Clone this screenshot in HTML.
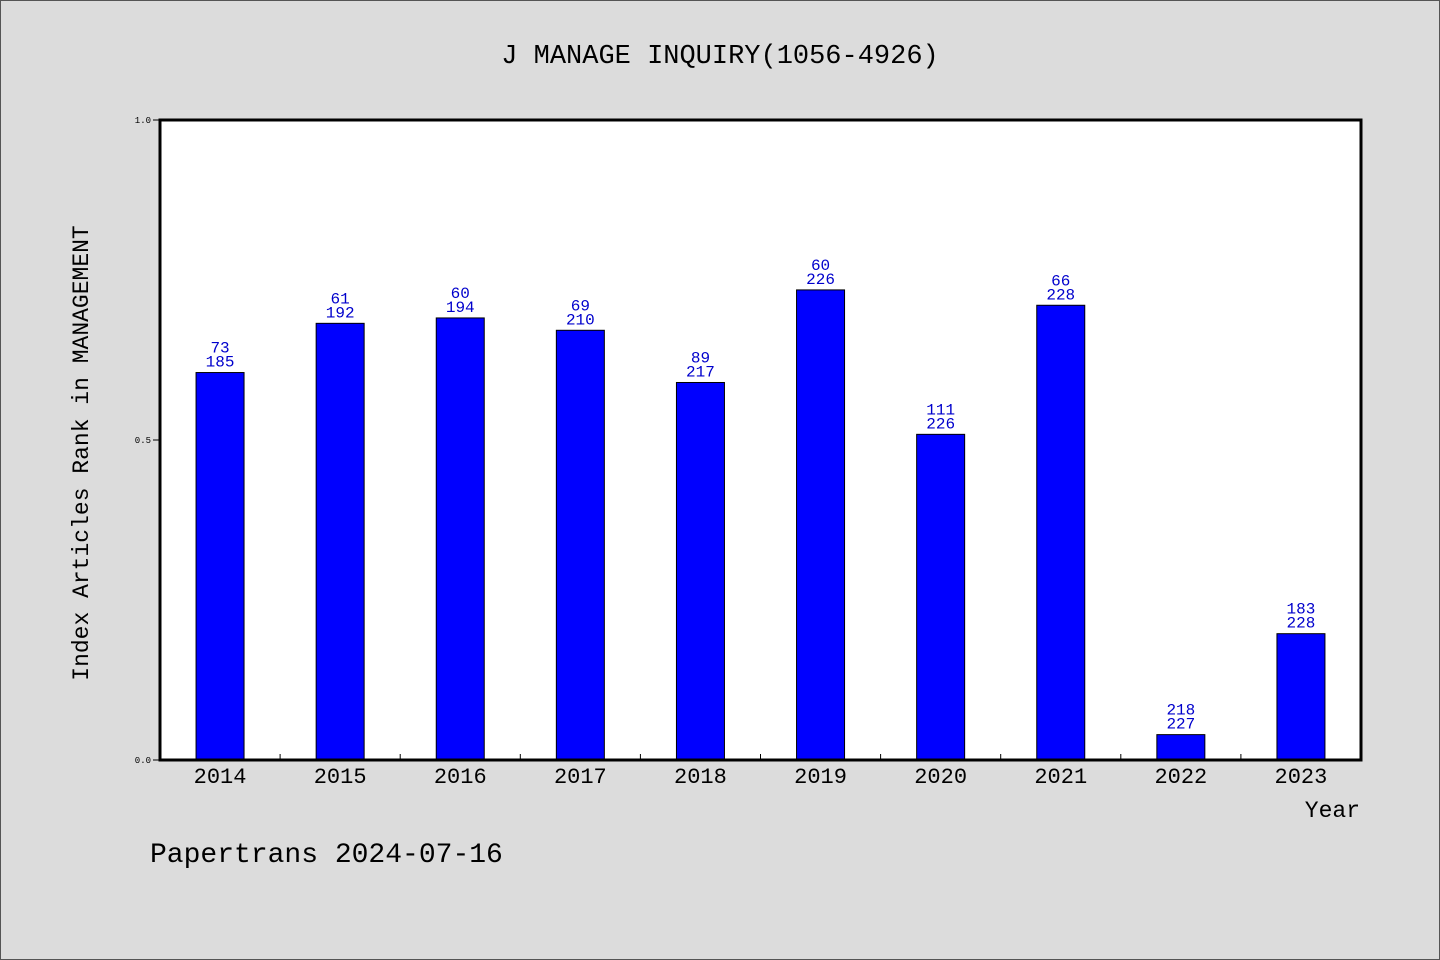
<!DOCTYPE html>
<html><head><meta charset="utf-8"><style>
html,body{margin:0;padding:0;background:#dcdcdc;}
svg{display:block;}
text{font-family:"WenQuanYi Zen Hei","Liberation Mono",monospace;}
</style></head><body>
<svg id="c" width="1440" height="960" xmlns="http://www.w3.org/2000/svg">
<rect x="0.5" y="0.5" width="1439" height="959" fill="#dcdcdc" stroke="#555"/>
<text x="720" y="63" font-size="27" text-anchor="middle">J MANAGE INQUIRY(1056-4926)</text>
<rect x="160" y="120" width="1201" height="640" fill="#fff"/>
<g id="bars"></g>
<rect x="160" y="120" width="1201" height="640" fill="none" stroke="#000" stroke-width="3"/>
<text transform="translate(88,453) rotate(-90)" font-size="23" text-anchor="middle">Index Articles Rank in MANAGEMENT</text>
<text x="1360" y="817" font-size="23" text-anchor="end">Year</text>
<text x="150" y="862" font-size="28">Papertrans 2024-07-16</text>
</svg>
<script>
const years=["2014","2015","2016","2017","2018","2019","2020","2021","2022","2023"];
const ranks=[73,61,60,69,89,60,111,66,218,183];
const totals=[185,192,194,210,217,226,226,228,227,228];
const yTicks=["0.0","0.5","1.0"];
const NS="http://www.w3.org/2000/svg";
const svg=document.getElementById('c'),g=document.getElementById('bars');
const X0=160,X1=1361,Y0=760,Y1=120;
const band=(X1-X0)/years.length;
const xc=i=>X0+band*(i+0.5);
const ys=v=>Y0-(Y0-Y1)*v;
function mk(t,a,p){const e=document.createElementNS(NS,t);for(const k in a)e.setAttribute(k,a[k]);(p||svg).appendChild(e);return e;}
yTicks.forEach(t=>{const y=ys(parseFloat(t));
const l=mk('line',{x1:153,x2:160,y1:y,y2:y,stroke:'#000'});


const tx=mk('text',{x:151,y:y+3,'font-size':9,'text-anchor':'end'});tx.textContent=t;

});
years.forEach((yr,i)=>{
const v=1-ranks[i]/totals[i];const top=ys(v);
const r=mk('rect',{x:xc(i)-24,y:top,width:48,height:Y0-top,fill:'#0000ff',stroke:'#000','stroke-width':1},g);


const a=mk('text',{x:xc(i),y:top-20,'font-size':16,fill:'#0000cc','text-anchor':'middle'});a.textContent=ranks[i];


const b=mk('text',{x:xc(i),y:top-6,'font-size':16,fill:'#0000cc','text-anchor':'middle'});b.textContent=totals[i];


const xl=mk('text',{x:xc(i),y:783,'font-size':22,'text-anchor':'middle'});xl.textContent=yr;


if(i>0){const t=mk('line',{x1:X0+band*i,x2:X0+band*i,y1:754,y2:760,stroke:'#000'});

}
});
</script>
</body></html>
